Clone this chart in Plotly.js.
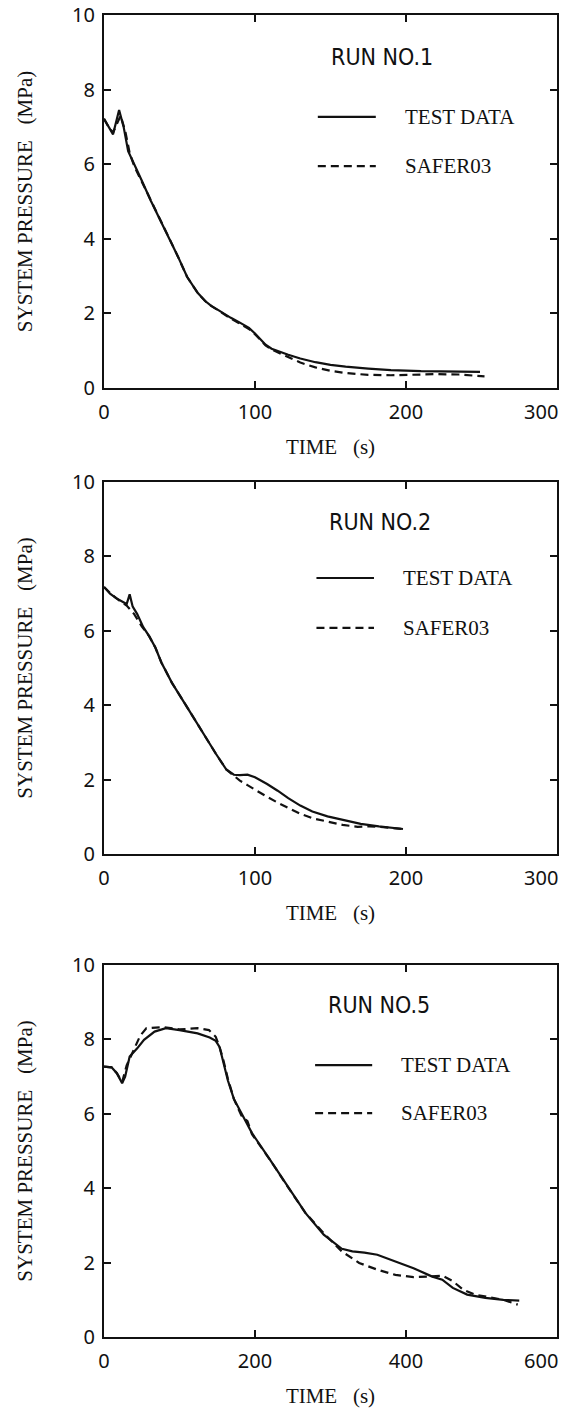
<!DOCTYPE html>
<html>
<head>
<meta charset="utf-8">
<script src="https://cdn.plot.ly/plotly-3.0.1.min.js"></script>
<style>html,body{margin:0;padding:0;background:#fff;}#chart{width:564px;height:1410px;}</style>
</head>
<body>
<div id="chart"></div>
<script>
// ---- data ----
const seriesNames = ['TEST DATA', 'SAFER03'];
const runLabels = ['RUN NO.1', 'RUN NO.2', 'RUN NO.5'];
const xTitle = 'TIME   (s)';
const yTitle = 'SYSTEM PRESSURE   (MPa)';
const yTicks = [0, 2, 4, 6, 8, 10];
const xTicksA = [0, 100, 200, 300];
const xTicksB = [0, 200, 400, 600];

// Run 1
const run1TestX = [0, 3, 6, 10, 13, 16, 20, 25, 31, 37, 43, 49, 55, 62, 67, 71, 76, 80, 84, 90, 96, 100, 103, 107, 111, 116, 122, 130, 140, 150, 160, 175, 190, 210, 230, 249];
const run1TestY = [7.22, 7.0, 6.8, 7.45, 7.0, 6.35, 5.98, 5.56, 5.02, 4.52, 4.03, 3.52, 2.98, 2.55, 2.33, 2.2, 2.08, 1.97, 1.88, 1.75, 1.61, 1.46, 1.32, 1.16, 1.05, 0.97, 0.89, 0.79, 0.69, 0.62, 0.57, 0.52, 0.48, 0.45, 0.44, 0.43];
const run1SaferX = [0, 3, 6, 9, 11, 14, 17, 20, 25, 31, 37, 43, 49, 55, 62, 67, 71, 76, 80, 84, 90, 96, 100, 103, 107, 111, 116, 122, 130, 140, 150, 160, 175, 190, 205, 220, 235, 252];
const run1SaferY = [7.22, 7.0, 6.85, 7.1, 7.3, 6.9, 6.3, 5.95, 5.54, 5.02, 4.52, 4.03, 3.52, 2.98, 2.55, 2.33, 2.2, 2.06, 1.95, 1.86, 1.72, 1.58, 1.44, 1.3, 1.14, 1.03, 0.94, 0.82, 0.68, 0.55, 0.46, 0.40, 0.35, 0.34, 0.36, 0.37, 0.36, 0.31];

// Run 2
const run2TestX = [0, 4, 8, 12, 15, 17, 19, 22, 26, 30, 34, 38, 45, 55, 64, 74, 81, 86, 90, 95, 100, 104, 108, 115, 122, 130, 138, 148, 158, 170, 182, 190, 198];
const run2TestY = [7.18, 7.0, 6.88, 6.78, 6.72, 6.98, 6.65, 6.45, 6.1, 5.85, 5.55, 5.15, 4.6, 3.95, 3.34, 2.7, 2.27, 2.13, 2.12, 2.13, 2.06, 1.98, 1.88, 1.7, 1.5, 1.3, 1.14, 1.01, 0.91, 0.81, 0.74, 0.70, 0.67];
const run2SaferX = [0, 5, 10, 15, 20, 25, 30, 34, 38, 45, 55, 64, 74, 81, 86, 90, 95, 100, 107, 115, 122, 130, 138, 148, 158, 168, 176, 185, 198];
const run2SaferY = [7.18, 6.98, 6.82, 6.68, 6.45, 6.12, 5.85, 5.55, 5.15, 4.6, 3.95, 3.34, 2.7, 2.27, 2.1, 1.97, 1.85, 1.72, 1.56, 1.38, 1.24, 1.08, 0.96, 0.86, 0.78, 0.73, 0.74, 0.72, 0.67];

// Run 5
const run5TestX = [0, 10, 17, 24, 28, 34, 44, 53, 67, 82, 100, 124, 140, 148, 153, 158, 164, 172, 182, 196, 220, 243, 267, 291, 305, 315, 329, 345, 362, 386, 410, 434, 448, 462, 481, 505, 529, 550];
const run5TestY = [7.27, 7.25, 7.09, 6.82, 7.0, 7.54, 7.76, 7.99, 8.21, 8.3, 8.25, 8.16, 8.05, 7.96, 7.8, 7.36, 6.9, 6.4, 6.02, 5.48, 4.76, 4.05, 3.33, 2.75, 2.52, 2.37, 2.3, 2.27, 2.21, 2.03, 1.85, 1.63, 1.54, 1.32, 1.14, 1.05, 1.0, 0.98];
const run5SaferX = [0, 10, 17, 24, 30, 40, 48, 56, 77, 100, 124, 139, 148, 153, 158, 164, 172, 182, 190, 196, 220, 243, 267, 291, 315, 338, 362, 386, 410, 434, 448, 462, 476, 491, 510, 529, 548];
const run5SaferY = [7.27, 7.25, 7.09, 6.85, 7.3, 7.75, 8.1, 8.3, 8.33, 8.27, 8.3, 8.25, 8.07, 7.8, 7.45, 6.95, 6.4, 5.95, 5.8, 5.45, 4.76, 4.05, 3.33, 2.79, 2.3, 1.99, 1.81, 1.67, 1.61, 1.63, 1.65, 1.5, 1.27, 1.14, 1.06, 1.0, 0.87];

// ---- styles ----
const serifFont = 'Liberation Serif, DejaVu Serif, serif';
const tickFont = {family: 'Noto Sans, Open Sans, sans-serif', size: 20, color: '#111'};
const runFont = {family: 'Liberation Sans Narrow, DejaVu Sans Condensed, Roboto, sans-serif', size: 23, color: '#111'};
const legFont = {family: serifFont, size: 21, color: '#111'};
const titleFont = {family: serifFont, size: 21, color: '#111'};
const solid = {color: '#111', width: 2.2};
const dashed = {color: '#111', width: 2.2, dash: '8px,5px'};

const panels = [
  {tx: run1TestX, ty: run1TestY, sx: run1SaferX, sy: run1SaferY, xt: xTicksA, dom: [0.7179, 1.0], run: runLabels[0],
   runPos: [0.497, 0.887], legY: [0.727, 0.595], legX: [0.472, 0.600, 0.66]},
  {tx: run2TestX, ty: run2TestY, sx: run2SaferX, sy: run2SaferY, xt: xTicksA, dom: [0.3654, 0.6467], run: runLabels[1],
   runPos: [0.492, 0.892], legY: [0.742, 0.608], legX: [0.469, 0.596, 0.656]},
  {tx: run5TestX, ty: run5TestY, sx: run5SaferX, sy: run5SaferY, xt: xTicksB, dom: [0.0, 0.2814], run: runLabels[2],
   runPos: [0.489, 0.892], legY: [0.731, 0.602], legX: [0.466, 0.592, 0.651]}
];

const data = [];
const layout = {
  width: 564, height: 1410,
  margin: {l: 104, r: 7, t: 15, b: 73},
  paper_bgcolor: '#fff', plot_bgcolor: '#fff',
  showlegend: false,
  annotations: [], shapes: []
};

panels.forEach((p, i) => {
  const n = i === 0 ? '' : String(i + 1);
  const xa = 'x' + n, ya = 'y' + n;
  data.push({x: p.tx, y: p.ty, xaxis: xa, yaxis: ya, type: 'scatter', mode: 'lines', name: seriesNames[0], line: solid});
  data.push({x: p.sx, y: p.sy, xaxis: xa, yaxis: ya, type: 'scatter', mode: 'lines', name: seriesNames[1], line: dashed});
  const xmax = p.xt[p.xt.length - 1];
  const axCommon = {showline: true, linecolor: '#111', linewidth: 2, mirror: 'ticks', ticks: 'inside', ticklen: 7, tickwidth: 2, tickcolor: '#111', showgrid: false, zeroline: false, tickfont: tickFont, fixedrange: true};
  layout['xaxis' + n] = Object.assign({}, axCommon, {
    anchor: ya, domain: [0, 1], range: [0, xmax],
    tickmode: 'array', tickvals: p.xt, ticktext: p.xt.map((v, k) => k === p.xt.length - 1 ? '' : String(v)),
    ticklabelstandoff: 5,
    title: {text: xTitle, font: titleFont, standoff: 15}
  });
  layout['yaxis' + n] = Object.assign({}, axCommon, {
    anchor: xa, domain: p.dom, range: [0, 10],
    tickmode: 'array', tickvals: yTicks, ticktext: yTicks.map(String),
    ticklabelstandoff: 3,
    title: {text: yTitle, font: titleFont, standoff: 34}
  });
  // last x tick label, kept inside the page
  layout.annotations.push({xref: xa + ' domain', yref: ya + ' domain', x: 1, y: 0, xanchor: 'right', yanchor: 'top', xshift: 3, yshift: -8,
    text: String(xmax), showarrow: false, font: tickFont});
  // run label
  layout.annotations.push({xref: xa + ' domain', yref: ya + ' domain', x: p.runPos[0], y: p.runPos[1], xanchor: 'left', yanchor: 'middle',
    text: p.run, showarrow: false, font: runFont});
  // legend samples
  [0, 1].forEach(j => {
    layout.shapes.push({type: 'line', xref: xa + ' domain', yref: ya + ' domain', x0: p.legX[0], x1: p.legX[1], y0: p.legY[j], y1: p.legY[j],
      line: j === 0 ? solid : dashed});
    layout.annotations.push({xref: xa + ' domain', yref: ya + ' domain', x: p.legX[2], y: p.legY[j], xanchor: 'left', yanchor: 'middle',
      text: seriesNames[j], showarrow: false, font: legFont});
  });
});

Plotly.newPlot('chart', data, layout, {staticPlot: true, displayModeBar: false});
</script>
</body>
</html>
